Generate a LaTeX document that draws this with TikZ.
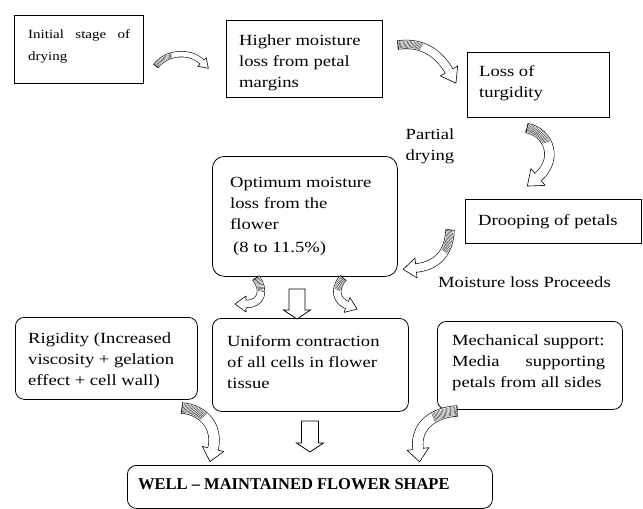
\documentclass[tikz,border=0pt]{standalone}
\usepackage{fontspec}
\setmainfont{Liberation Serif}[FakeStretch=1.2]
\newfontfamily\wellfont{Liberation Serif}
\usetikzlibrary{decorations.markings,calc}

\tikzset{
  sqbox/.style={draw, line width=0.8pt, inner sep=0pt, anchor=north west},
  rbox/.style={sqbox, rounded corners=9pt},
  txt/.style={inner sep=0pt, anchor=base west, font=\fontsize{15.5}{21}\selectfont},
  band/.style={draw=black, line width=0.6pt, double=white, double distance=#1},
  hollow/.style={draw, line width=0.8pt, fill=white, line join=miter},
}

% #1 path, #2 band width, #3 head half width, #4 head length
\newcommand\fatarrow[4]{%
  \draw[band=#2] #1;
  \path[decorate, decoration={markings,
     mark=between positions 0 and 0.4 step 1.3pt with {\draw[black!75, line width=0.45pt] (-0.7pt,-#2/2+0.5pt) -- (0.7pt,#2/2-0.5pt);},
     mark=at position 0 with {\draw[line width=0.6pt] (0,-#2/2-0.6pt) -- (0,#2/2+0.6pt);},
     mark=at position 0.9995 with {\fill[white] (0,#3) -- (#4,0) -- (0,-#3) -- cycle;
        \draw[line width=0.6pt, line join=round] (0,#2/2) -- (0,#3) -- (#4,0) -- (0,-#3) -- (0,-#2/2);}
  }] #1;
}

\begin{document}
\begin{tikzpicture}[x=1pt,y=-1pt]
\useasboundingbox (0,0) rectangle (643,509);
\fill[white] (0,0) rectangle (643,509);

% boxes
\node[sqbox, minimum width=129pt, minimum height=68pt] (init) at (14,15) {};
\node[sqbox, minimum width=156pt, minimum height=77pt] (higher) at (226,20) {};
\node[sqbox, minimum width=142pt, minimum height=65pt] (loss) at (467,52) {};
\node[sqbox, minimum width=176pt, minimum height=44pt] (droop) at (465,199) {};
\node[rbox, minimum width=185pt, minimum height=120pt, rounded corners=12pt] (optimum) at (212,156) {};
\node[rbox, minimum width=182pt, minimum height=82pt] (rigid) at (15,317) {};
\node[rbox, minimum width=196pt, minimum height=93pt] (uniform) at (212,318) {};
\node[rbox, minimum width=185pt, minimum height=88pt] (mech) at (437,321) {};
\node[rbox, minimum width=365pt, minimum height=43pt] (well) at (127,465) {};

% texts
\node[txt, font=\fontsize{12.5}{22}\selectfont] (init-t) at (28,38)
  {\parbox[t]{102pt}{\hbox to 102pt{Initial\hfill stage\hfill of}\par drying}};
\node[txt] (higher-t) at (239,45) {\parbox[t]{140pt}{\raggedright Higher moisture\\loss from petal\\margins}};
\node[txt] (loss-t) at (479,76) {\parbox[t]{120pt}{\raggedright Loss of\\turgidity}};
\node[txt] (droop-t) at (478,225) {Drooping of petals};
\node[txt] (optimum-t) at (230,187) {\parbox[t]{165pt}{\raggedright Optimum moisture\\loss from the\\flower\\[2pt]\hspace*{3pt}(8 to 11.5\%)}};
\node[txt] (rigid-t) at (28,343) {\parbox[t]{165pt}{\raggedright Rigidity (Increased\\viscosity + gelation\\effect + cell wall)}};
\node[txt] (uniform-t) at (227,346) {\parbox[t]{175pt}{\raggedright Uniform contraction\\of all cells in flower\\tissue}};
\node[txt] (mech-t) at (452,345) {\parbox[t]{153pt}{Mechanical support:\par\hbox to 153pt{Media\hfill supporting}\par petals from all sides}};
\node[txt, font=\wellfont\fontsize{16.5}{20}\selectfont\bfseries] (well-t) at (138,489) {WELL – MAINTAINED FLOWER SHAPE};

% free labels
\node[txt, anchor=base] (pd) at (430,139) {\parbox[t]{70pt}{\centering Partial\\drying}};
\node[txt] (mlp) at (438,287) {Moisture loss Proceeds};

% arrow end coordinates
\coordinate (a1s) at (156,66);  \coordinate (a1e) at (202,62);
\coordinate (a2s) at (398,45);  \coordinate (a2e) at (449,71);
\coordinate (a3s) at (527,128); \coordinate (a3e) at (538,177);
\coordinate (a4s) at (450,230); \coordinate (a4e) at (416,268);
\coordinate (a5s) at (256,278); \coordinate (a5e) at (246,304);
\coordinate (a6s) at (343,278); \coordinate (a6e) at (347,305);
\coordinate (a7s) at (182,408); \coordinate (a7e) at (213,449);
\coordinate (a8s) at (457,411); \coordinate (a8e) at (418,449);
\coordinate (h1) at (297,289);
\coordinate (h2) at (310,421);

% curved arrows
\fatarrow{(a1s) .. controls (166,52) and (190,50) .. (a1e)}{5pt}{6pt}{9pt}
\fatarrow{(a2s) .. controls (425,41) and (441,57) .. (a2e)}{8pt}{10pt}{14pt}
\fatarrow{(a3s) .. controls (550,133) and (558,160) .. (a3e)}{9pt}{11pt}{14pt}
\fatarrow{(a4s) .. controls (449,255) and (435,266) .. (a4e)}{8pt}{10pt}{13pt}
\fatarrow{(a5s) .. controls (265,290) and (262,304) .. (a5e)}{7pt}{8pt}{11pt}
\fatarrow{(a6s) .. controls (333,290) and (337,301) .. (a6e)}{7pt}{8pt}{11pt}
\fatarrow{(a7s) .. controls (205,410) and (218,428) .. (a7e)}{10pt}{11pt}{13pt}
\fatarrow{(a8s) .. controls (435,412) and (415,425) .. (a8e)}{10pt}{11pt}{13pt}

% hollow block arrows
\draw[hollow] (h1) ++(-8,0) -- ++(16,0) -- ++(0,21) -- ++(5.5,0) -- ++(-13.5,9) -- ++(-13.5,-9) -- ++(5.5,0) -- cycle;
\draw[hollow] (h2) ++(-8.5,0) -- ++(17,0) -- ++(0,22) -- ++(5,0) -- ++(-13.5,9) -- ++(-13.5,-9) -- ++(5,0) -- cycle;
\end{tikzpicture}
\end{document}
